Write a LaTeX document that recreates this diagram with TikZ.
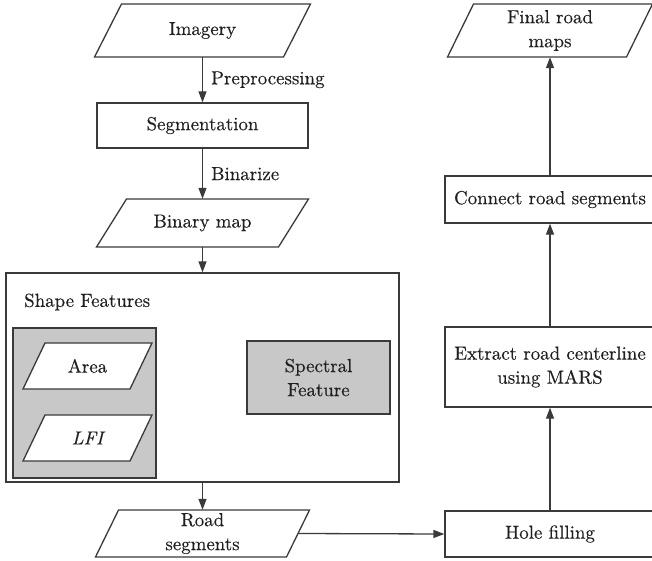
\documentclass[tikz,border=0pt]{standalone}
\usepackage{fontspec}
\setmainfont{lmroman10-regular.otf}[ItalicFont=lmroman10-italic.otf, FakeBold=0.3]
\usetikzlibrary{arrows.meta}
\definecolor{ln}{HTML}{3A3A3A}
\definecolor{gf}{HTML}{C8C8C8}
\definecolor{tx}{HTML}{202020}
% name, cx, cy, mid width, height, slant, text
\newcommand\paranode[7]{%
  \filldraw[shapeline, fill=white]
    ({#2-#4/2+#6/2},{#3-#5/2}) -- ({#2+#4/2+#6/2},{#3-#5/2}) --
    ({#2+#4/2-#6/2},{#3+#5/2}) -- ({#2-#4/2-#6/2},{#3+#5/2}) -- cycle;
  \node[rectangle, minimum width=#4pt, minimum height=#5pt] (#1) at (#2,#3) {#7};}
\begin{document}
\begin{tikzpicture}[x=1pt,y=-1pt,
  every node/.style={font=\fontsize{18.9}{24}\selectfont, text=tx, align=center, inner sep=0pt},
  shapeline/.style={draw=ln, line width=1.3pt},
  box/.style={rectangle, shapeline, fill=white},
  graybox/.style={rectangle, shapeline, fill=gf},
  arr/.style={draw=ln, line width=1.3pt, -{Triangle[length=11pt,width=8pt]}},
  lab/.style={anchor=west, xshift=8pt}]
\useasboundingbox (0,0) rectangle (652,561);

% left column
\paranode{img}{202.5}{30.5}{189}{53}{27}{Imagery}
\node[box, minimum width=211pt, minimum height=45pt] (seg) at (202.5,125.5) {Segmentation};
\paranode{bin}{202.5}{223}{182}{48}{30}{Binary map}

\node[box, minimum width=393pt, minimum height=209pt] (big) at (202.5,377.5) {};
\node[anchor=west] (shp) at (24,302) {Shape Features};
\node[graybox, minimum width=143pt, minimum height=150pt] (gray) at (84.5,403) {};
\paranode{area}{87.5}{366}{107}{46}{22}{Area}
\paranode{lfi}{87.5}{438}{107}{46}{22}{\itshape LFI}
\node[graybox, minimum width=143pt, minimum height=73pt] (spec) at (318.5,377.5) {Spectral\\Feature};

\paranode{road}{202.5}{533.5}{191}{47}{23}{Road\\segments}

% right column
\node[box, minimum width=210pt, minimum height=46pt] (hole) at (550,534) {Hole filling};
\node[box, minimum width=210pt, minimum height=80pt] (extr) at (550,367) {Extract road centerline\\using MARS};
\node[box, minimum width=210pt, minimum height=47pt] (conn) at (550,199.5) {Connect road segments};
\paranode{fin}{550}{30.5}{179}{53}{26}{Final road\\maps}

% connectors
\draw[arr] (img.south) -- node[lab, midway] (pre) {Preprocessing} (seg.north);
\draw[arr] (seg.south) -- node[lab, midway] (bz) {Binarize} (bin.north);
\draw[arr] (bin.south) -- (big.north);
\draw[arr] (big.south) -- (road.north);
\draw[arr] (road.east) -- (hole.west);
\draw[arr] (hole.north) -- (extr.south);
\draw[arr] (extr.north) -- (conn.south);
\draw[arr] (conn.north) -- (fin.south);
\end{tikzpicture}
\end{document}
